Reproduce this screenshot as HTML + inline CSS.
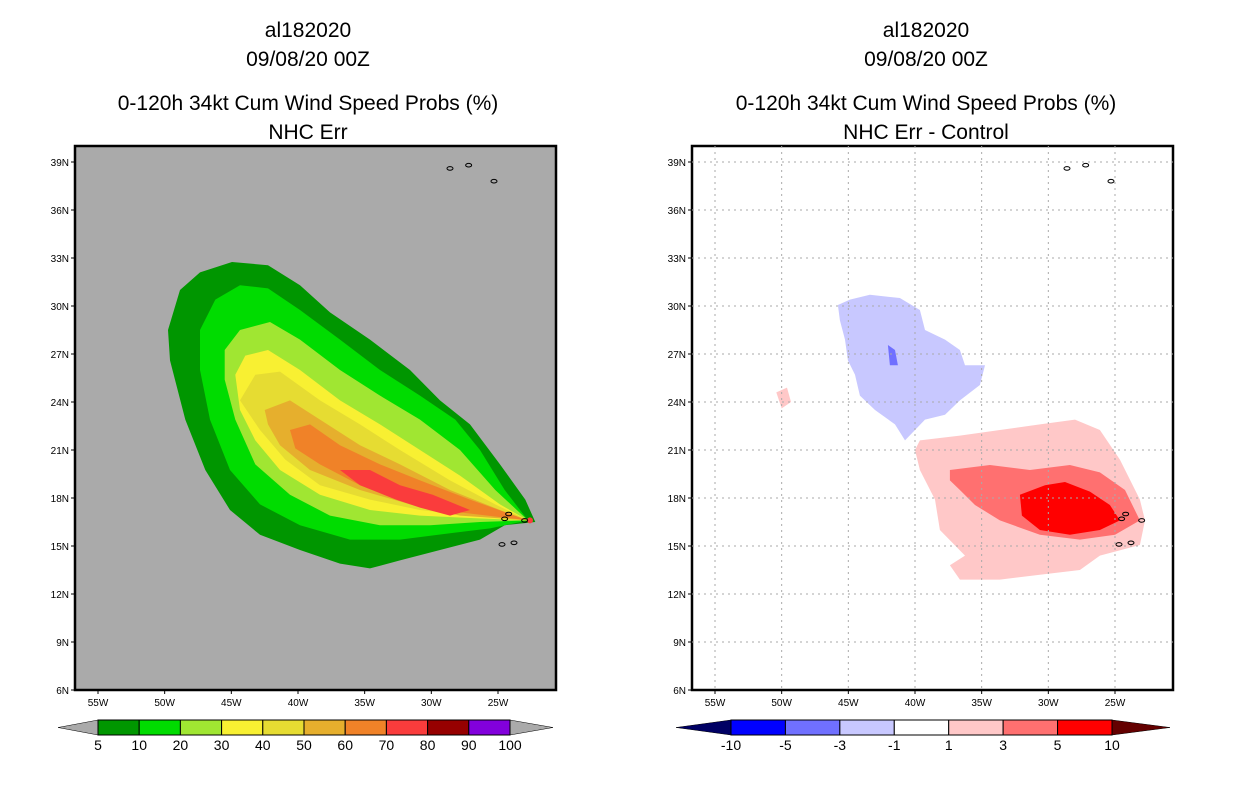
<!DOCTYPE html>
<html><head><meta charset="utf-8"><style>
body{margin:0;background:#fff;}
svg{display:block;font-family:"Liberation Sans",sans-serif;}
.t{font-size:21px;text-anchor:middle;fill:#000;}
.tk{font-size:10px;fill:#000;}
.cb{font-size:14px;text-anchor:middle;fill:#000;}
</style></head><body>
<svg id="s" width="1236" height="800" viewBox="0 0 1236 800">
<g>
<text class="t" x="308" y="37">al182020</text>
<text class="t" x="308" y="66">09/08/20 00Z</text>
<text class="t" x="308" y="110">0-120h 34kt Cum Wind Speed Probs (%)</text>
<text class="t" x="308" y="139">NHC Err</text>
</g>
<g>
<text class="t" x="926" y="37">al182020</text>
<text class="t" x="926" y="66">09/08/20 00Z</text>
<text class="t" x="926" y="110">0-120h 34kt Cum Wind Speed Probs (%)</text>
<text class="t" x="926" y="139">NHC Err - Control</text>
</g>
</svg>
<script>
const latTicks=[6,9,12,15,18,21,24,27,30,33,36,39];
const lonTicks=[-55,-50,-45,-40,-35,-30,-25];
const probLevels=["5","10","20","30","40","50","60","70","80","90","100"];
const probColors=["#009600","#00dc00","#a0e632","#f8f032","#e6dc32","#e6af2d","#f08228","#fa3c3c","#960000","#8200dc"];
const diffLevels=["-10","-5","-3","-1","1","3","5","10"];
const diffColors=["#0000ff","#7070ff","#c8c8ff","#ffffff","#ffc8c8","#ff7070","#ff0000"];
const p5=[[-49.75,28.5],[-48.85,31],[-47.35,32.1],[-44.95,32.75],[-42.25,32.55],[-39.85,31.3],[-37.6,29.6],[-34.6,27.9],[-31.6,26],[-29.35,24.1],[-27.1,22.6],[-24.85,20.1],[-22.95,17.9],[-22.2,16.5],[-24.5,16.3],[-26.35,15.4],[-29.35,14.75],[-32.35,14.1],[-34.6,13.6],[-36.85,13.9],[-39.85,14.75],[-42.85,15.7],[-45.1,17.25],[-46.95,19.75],[-48.45,22.9],[-49.6,26.6]];
const p10=[[-47.35,28.5],[-46.2,30.4],[-44.35,31.3],[-42.25,31.1],[-39.85,29.75],[-36.85,27.9],[-33.85,26],[-30.85,24.4],[-28.2,22.9],[-26.35,21],[-24.5,18.5],[-22.75,16.6],[-25.6,16.1],[-28.6,15.8],[-32.35,15.4],[-36.1,15.4],[-39.85,16.3],[-42.85,17.6],[-45.1,19.75],[-46.6,22.9],[-47.35,26]];
const p20=[[-45.5,27.25],[-44.35,28.5],[-42.1,29],[-39.85,27.9],[-36.85,26],[-33.85,24.4],[-30.85,22.9],[-27.85,21],[-25.2,18.5],[-22.75,16.6],[-26.35,16.5],[-30.1,16.3],[-33.85,16.3],[-37.6,16.9],[-40.6,18.2],[-43.2,20.1],[-44.7,22.9],[-45.5,25.4]];
const p30=[[-44.7,25.7],[-43.95,26.9],[-42.25,27.25],[-39.85,26],[-36.85,24.1],[-33.85,22.6],[-30.85,21],[-27.85,19.4],[-24.85,17.6],[-22.75,16.6],[-27.1,16.75],[-30.85,16.9],[-34.6,17.25],[-38.35,18.2],[-41.35,19.75],[-43.2,21.6],[-44.35,23.5]];
const p40=[[-44.35,24.1],[-43.2,25.7],[-41.35,25.9],[-38.35,24.1],[-35.35,22.6],[-32.35,21],[-28.6,19.1],[-25.2,17.6],[-22.75,16.6],[-27.1,16.9],[-30.85,17.25],[-34.6,17.9],[-38.35,18.8],[-40.95,20.4],[-42.85,22.25]];
const p50=[[-42.5,23.5],[-40.6,24.1],[-38.35,22.9],[-35.35,21.3],[-32.35,20.1],[-28.6,18.5],[-24.85,17.25],[-22.75,16.6],[-27.85,16.9],[-31.6,17.6],[-35.35,18.5],[-39.1,19.75],[-41.35,21.3],[-42.25,22.6]];
const p60=[[-40.6,22.25],[-39.1,22.6],[-36.85,21.3],[-33.85,20.1],[-30.85,19.1],[-27.1,17.9],[-22.75,16.6],[-27.85,17.1],[-31.6,17.9],[-35.35,18.8],[-38.35,20.1],[-40.2,21.1]];
const p70=[[-36.85,19.75],[-34.6,19.75],[-32.35,18.8],[-29.9,18.2],[-27.1,17.25],[-28.6,16.9],[-30.85,17.4],[-32.65,17.9],[-35.35,18.8]];
const dBlue=[[-45.78,30.06],[-44.88,30.4],[-43.38,30.7],[-41.13,30.5],[-39.63,29.75],[-39.25,28.5],[-37.75,27.9],[-36.63,27.25],[-36.25,26.3],[-34.75,26.3],[-35.13,25.06],[-36.63,24.1],[-37.75,23.2],[-39.25,22.9],[-40.75,21.6],[-41.5,22.6],[-43,23.5],[-44.13,24.4],[-44.5,25.7],[-45.03,26.6],[-45.25,27.9],[-45.63,29.1]];
const dBlue2=[[-42.03,27.56],[-41.5,27.25],[-41.28,26.3],[-41.88,26.3]];
const dPink=[[-39.63,21.6],[-36.63,21.9],[-33.63,22.25],[-30.63,22.6],[-28,22.9],[-26.13,22.25],[-24.63,20.4],[-23.13,17.9],[-22.75,16.6],[-23.13,15.06],[-26.13,14.4],[-27.63,13.5],[-30.63,13.2],[-33.63,12.9],[-36.63,12.9],[-37.38,13.8],[-36.25,14.4],[-38.13,16],[-38.5,17.9],[-39.63,19.75],[-40,21]];
const dPink2=[[-50.4,24.6],[-49.6,24.9],[-49.3,24],[-50,23.6]];
const dMid=[[-37.38,19.75],[-34.38,20.06],[-31.38,19.75],[-28.38,20.06],[-26.13,19.6],[-24.25,18.5],[-23.13,16.6],[-25,15.7],[-27.63,15.4],[-30.63,15.7],[-33.63,16.6],[-35.5,17.56],[-36.63,18.5],[-37.38,19.1]];
const dRed=[[-32.13,18.2],[-30.25,18.8],[-28.75,19],[-26.88,18.4],[-25.38,17.56],[-24.63,16.6],[-26.13,16],[-28.38,15.7],[-30.63,16],[-31.98,16.9]];
const islands=[[-28.6,38.6],[-27.2,38.8],[-25.3,37.8],[-24.2,17],[-23,16.6],[-24.7,15.1],[-23.8,15.2],[-24.5,16.7]];

const NS="http://www.w3.org/2000/svg";
const svg=document.getElementById('s');
function mk(tag,attrs,parent){const e=document.createElementNS(NS,tag);for(const k in attrs)e.setAttribute(k,attrs[k]);(parent||svg).appendChild(e);return e;}

function panel(x0,name){
  const L=x0, R=x0+481, T=146, B=690;
  const X=lon=>x0+23+(lon+55)*13.333;
  const Y=lat=>690-(lat-6)*16;
  const g=mk('g',{});
  
  
  const clipId='c'+x0;
  const cp=mk('clipPath',{id:clipId},g);mk('rect',{x:L,y:T,width:481,height:544},cp);
  return {g,L,R,T,B,X,Y,clipId};
}
function poly(P,pts,fill,name){
  const e=mk('polygon',{points:pts.map(p=>P.X(p[0]).toFixed(1)+','+P.Y(p[1]).toFixed(1)).join(' '),fill:fill,'clip-path':'url(#'+P.clipId+')'},P.g);
  
  
}
function axes(P,grid){
  const f=mk('rect',{x:P.L,y:P.T,width:481,height:544,fill:'none',stroke:'#000','stroke-width':2.5},P.g);
  
  
  latTicks.forEach(v=>{
    const y=P.Y(v);
    if(grid&&v>6)mk('line',{x1:P.L,x2:P.R,y1:y,y2:y,stroke:'#aaa','stroke-dasharray':'2,4'},P.g);
    mk('line',{x1:P.L-4,x2:P.L,y1:y,y2:y,stroke:'#000'},P.g);
    const t=mk('text',{x:P.L-6,y:y+4,class:'tk','text-anchor':'end'},P.g);t.textContent=v+'N';
    
    
  });
  lonTicks.forEach(v=>{
    const x=P.X(v);
    if(grid)mk('line',{x1:x,x2:x,y1:P.T,y2:P.B,stroke:'#aaa','stroke-dasharray':'2,4'},P.g);
    mk('line',{x1:x,x2:x,y1:P.B,y2:P.B+4,stroke:'#000'},P.g);
    const t=mk('text',{x:x,y:P.B+16,class:'tk','text-anchor':'middle'},P.g);t.textContent=(-v)+'W';
    
    
  });
  islands.forEach(p=>{mk('ellipse',{cx:P.X(p[0]),cy:P.Y(p[1]),rx:3,ry:1.8,fill:'none',stroke:'#000','stroke-width':1},P.g);});
}
function colorbar(x1,x2,tl,tr,levels,colors,leftTri,rightTri,name){
  const g=mk('g',{});
  
  
  const y1=720,y2=735,ym=727.5,w=(x2-x1)/colors.length;
  mk('polygon',{points:`${tl},${ym} ${x1},${y1} ${x1},${y2}`,fill:leftTri,stroke:'#000','stroke-width':0.5},g);
  mk('polygon',{points:`${tr},${ym} ${x2},${y1} ${x2},${y2}`,fill:rightTri,stroke:'#000','stroke-width':0.5},g);
  colors.forEach((c,i)=>{mk('rect',{x:x1+i*w,y:y1,width:w,height:y2-y1,fill:c,stroke:'#000','stroke-width':1},g);});
  levels.forEach((l,i)=>{const t=mk('text',{x:x1+i*w,y:750,class:'cb'},g);t.textContent=l;});
}

const A=panel(75,'left-map-panel');
mk('rect',{x:A.L,y:A.T,width:481,height:544,fill:'#aaaaaa'},A.g);
[[p5,0],[p10,1],[p20,2],[p30,3],[p40,4],[p50,5],[p60,6],[p70,7]].forEach(([p,i])=>poly(A,p,probColors[i],'prob-contour-'+probLevels[i]));
mk('circle',{cx:A.X(-22.6),cy:A.Y(16.6),r:3,fill:'#fa3c3c'},A.g);
axes(A,false);

const Bp=panel(692,'right-map-panel');
mk('rect',{x:Bp.L,y:Bp.T,width:481,height:544,fill:'#fff'},Bp.g);
poly(Bp,dBlue,diffColors[2],'diff-contour-minus1');
poly(Bp,dBlue2,diffColors[1],'diff-contour-minus3');
poly(Bp,dPink,diffColors[4],'diff-contour-plus1');
poly(Bp,dPink2,diffColors[4],'diff-contour-plus1-small');
poly(Bp,dMid,diffColors[5],'diff-contour-plus3');
poly(Bp,dRed,diffColors[6],'diff-contour-plus5');
axes(Bp,true);

colorbar(98,510,58,553,probLevels,probColors,'#aaaaaa','#aaaaaa','prob-colorbar');
colorbar(731,1112,676,1170,diffLevels,diffColors,'#000064','#640000','diff-colorbar');
</script>
</body></html>
